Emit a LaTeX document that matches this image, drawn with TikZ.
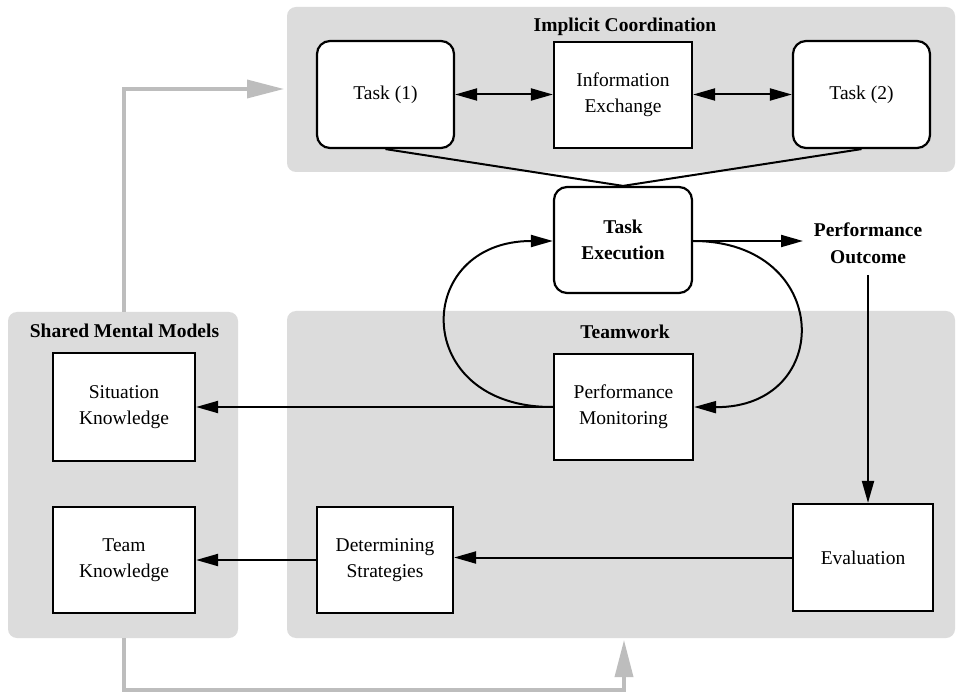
\documentclass[tikz,border=0pt]{standalone}
\usepackage{fontspec}
\setmainfont{Liberation Serif}
\usetikzlibrary{arrows.meta}
\definecolor{regfill}{HTML}{DCDCDC}
\definecolor{flowgray}{HTML}{BDBDBD}
\begin{document}
\begin{tikzpicture}[x=1pt,y=-1pt,
  region/.style={fill=regfill,draw=none,rounded corners=9pt},
  rtitle/.style={font=\fontsize{19.5}{22}\selectfont\bfseries},
  box/.style={draw=black,line width=2.2pt,fill=white,align=center,inner sep=0pt,
    font=\fontsize{19.5}{26}\selectfont,minimum width=137pt,minimum height=107pt},
  rbox/.style={box,rounded corners=13pt},
  wbox/.style={box,minimum width=142pt,minimum height=107pt},
  conn/.style={line width=2pt,draw=black},
  tip/.style={-{Triangle[length=22pt,width=12pt]}},
  dtip/.style={{Triangle[length=22pt,width=12pt]}-{Triangle[length=22pt,width=12pt]}},
  gflow/.style={draw=flowgray,line width=3.5pt,-{Triangle[length=37pt,width=18pt]}}]
\useasboundingbox (0,0) rectangle (961,692);
\fill[white] (0,0) rectangle (961,692);
% regions
\path[region] (287,7) rectangle (955,172);
\path[region] (8,312) rectangle (238,638);
\path[region] (287,311) rectangle (955,638);
\node[rtitle] (ictitle) at (625,27) {Implicit Coordination};
\node[rtitle] (smtitle) at (124.5,331) {Shared Mental Models};
\node[rtitle] (twtitle) at (625,332) {Teamwork};
% nodes
\node[rbox] (t1) at (385.5,94.5) {Task (1)};
\node[box, minimum width=138pt, minimum height=106pt] (ie) at (623,95) {Information\\Exchange};
\node[rbox] (t2) at (861.5,94.5) {Task (2)};
\node[rbox, minimum width=138pt, minimum height=106pt, font=\fontsize{19.5}{26}\selectfont\bfseries] (te) at (623,240) {Task\\Execution};
\node[align=center, font=\fontsize{19.5}{27}\selectfont\bfseries] (po) at (868,243) {Performance\\Outcome};
\node[box, minimum width=139pt, minimum height=106pt] (pm) at (623.5,407) {Performance\\Monitoring};
\node[wbox, minimum height=108pt] (sk) at (124,407) {Situation\\Knowledge};
\node[wbox, minimum height=106pt] (tk) at (124,560) {Team\\Knowledge};
\node[box, minimum width=136pt, minimum height=106pt] (ds) at (385,560) {Determining\\Strategies};
\node[box, minimum width=140pt, minimum height=107pt] (ev) at (863,557.5) {Evaluation};
% connectors
\draw[conn,dtip] (t1.east) -- (ie.west |- t1.east);
\draw[conn,dtip] (ie.east |- t2.west) -- (t2.west);
\draw[conn] (t1.south) -- (te.north) -- (t2.south);
\coordinate (poin) at (803,241);
\draw[conn,tip] (te.east |- poin) -- (poin);
\draw[conn,tip] (pm.west) .. controls (410,408) and (412,241) .. (te.west |- poin);
\draw[conn,tip] (te.east |- poin) .. controls (833,241) and (835,408) .. (pm.east);
\draw[conn,tip] (pm.west) -- (sk.east);
\coordinate (poout) at (868,275);
\draw[conn,tip] (poout) -- (ev.north -| poout);
\draw[conn,tip] (ev.west) -- (ds.east |- ev.west);
\draw[conn,tip] (ds.west) -- (tk.east);
% gray flows
\coordinate (smtop) at (124,312);
\coordinate (smbot) at (124,638);
\coordinate (ictarget) at (284,89);
\coordinate (twtarget) at (624,640);
\draw[gflow] (smtop) -- (124,89) -- (ictarget);
\draw[gflow] (smbot) -- (124,690) -- (624,690) -- (twtarget);
\end{tikzpicture}
\end{document}
